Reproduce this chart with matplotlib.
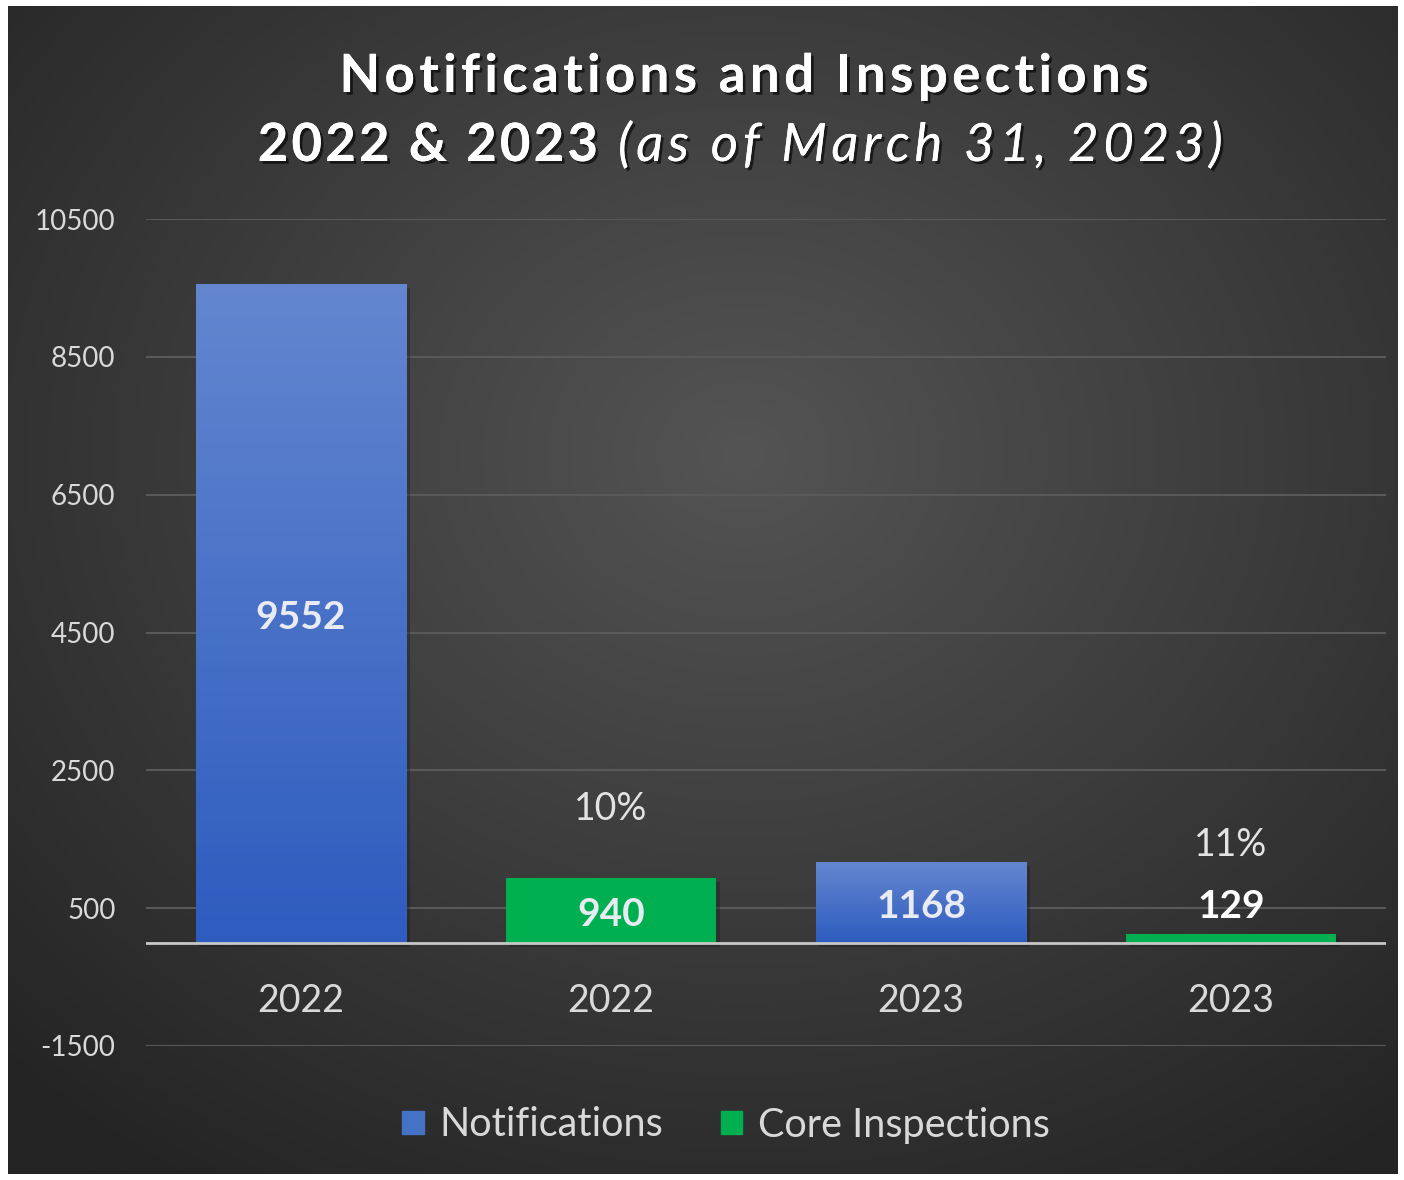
import numpy as np
import matplotlib
matplotlib.use("Agg")
import matplotlib.pyplot as plt
import matplotlib.patheffects as pe
from matplotlib.patches import Patch

# data
categories = ["2022", "2022", "2023", "2023"]
series = ["Notifications", "Core Inspections", "Notifications", "Core Inspections"]
values = [9552, 940, 1168, 129]
pct_labels = ["", "10%", "", "11%"]
yticks = [-1500, 500, 2500, 4500, 6500, 8500, 10500]

plt.rcParams['font.family'] = ['Lato', 'DejaVu Sans']

W, H = 1404, 1180
fig = plt.figure(figsize=(W / 100, H / 100), dpi=100, facecolor="white")
renderer = fig.canvas.get_renderer()


def text_width(t, **kw):
    tt = fig.text(0, 0, t, **kw)
    w = tt.get_window_extent(renderer).width
    tt.remove()
    return w


def spaced_text(x_px, y_px, s, spacing, ha="center", **kw):
    # draws s one glyph at a time so the letters can be spread out
    base = text_width("XX", **kw)
    adv = [text_width("X" + s[:k] + "X", **kw) - base for k in range(len(s) + 1)]
    total = adv[-1] + spacing * (len(s) - 1)
    if ha == "center":
        start = x_px - total / 2
    elif ha == "right":
        start = x_px - total
    else:
        start = x_px
    for k, ch in enumerate(s):
        if ch == " ":
            continue
        fig.text((start + adv[k] + k * spacing) / W, 1 - y_px / H, ch,
                 ha="left", va="baseline", **kw)


# dark radial background inside a thin white frame
bg = fig.add_axes([8 / W, 6 / H, (W - 14) / W, (H - 12) / H])
bg.set_axis_off()
yy, xx = np.mgrid[0:600, 0:700]
cx, cy = 370, 230
r = np.sqrt(((xx - cx) / 700.0) ** 2 + ((yy - cy) / 600.0) ** 2)
r = np.clip(r / 0.75, 0, 1)
light = np.array([0x54, 0x54, 0x54]) / 255.0
dark = np.array([0x24, 0x24, 0x24]) / 255.0
img = light[None, None, :] * (1 - r[..., None]) + dark[None, None, :] * r[..., None]
bg.imshow(img, aspect="auto", extent=(0, 1, 0, 1), origin="upper")
bg.set_xlim(0, 1)
bg.set_ylim(0, 1)

ax = fig.add_axes([146 / W, 1 - 1046 / H, (1386 - 146) / W, (1046 - 219) / H])
ax.patch.set_alpha(0)

colors = {"Notifications": "#4472C4", "Core Inspections": "#00B050"}
width = 0.68
x = np.arange(len(values))

grad = np.linspace(0, 1, 100)[:, None]
top_blue = np.array([0x63, 0x86, 0xCF]) / 255.0
bot_blue = np.array([0x2E, 0x5C, 0xBF]) / 255.0
blue_img = top_blue[None, None, :] * (1 - grad[..., None]) + bot_blue[None, None, :] * grad[..., None]

for i, (v, s) in enumerate(zip(values, series)):
    # soft shadow
    ax.bar(x[i] + 0.012, v, width, bottom=-60, color="#1a1a1a", alpha=0.35, zorder=2)
    bars = ax.bar(x[i], v, width, color=colors[s], zorder=3)
    if s == "Notifications":
        im = ax.imshow(blue_img, aspect="auto", zorder=3.5,
                       extent=(x[i] - width / 2, x[i] + width / 2, 0, v), origin="upper")
        im.set_clip_path(bars[0])

ax.set_xlim(-0.5, 3.5)
ax.set_ylim(-1500, 10500)

# labels on the bars
for i, v in enumerate(values):
    if v > 500:
        ax.annotate(str(v), (x[i], v / 2), xytext=(0, -4), textcoords="offset pixels",
                    ha="center", va="center", fontsize=28, fontweight="bold",
                    color="#e8ebf3", zorder=5)
    else:
        ax.annotate(str(v), (x[i], v), xytext=(0, 27), textcoords="offset pixels",
                    ha="center", va="center", fontsize=28, fontweight="bold",
                    color="white", zorder=5)

pct_offsets = [0, 69, 0, 89]
for i, p in enumerate(pct_labels):
    if p:
        ax.annotate(p, (x[i], values[i]), xytext=(0, pct_offsets[i]), textcoords="offset pixels",
                    ha="center", va="center", fontsize=27, color="#e3e3e3", zorder=5)

ax.set_yticks(yticks)
ax.set_yticklabels([str(t) for t in yticks])
ax.set_xticks(x)
ax.set_xticklabels([])
for i, c in enumerate(categories):
    ax.annotate(c, (x[i], 0), xytext=(0, -58), textcoords="offset pixels",
                ha="center", va="center", fontsize=27, color="#d9d9d9")
ax.tick_params(axis="y", length=0, pad=22, labelsize=20, labelcolor="#d9d9d9")
ax.tick_params(axis="x", length=0)
ax.grid(axis="y", color="#595959", linewidth=1.5, zorder=0)
ax.set_axisbelow(True)
for sp in ax.spines.values():
    sp.set_visible(False)
ax.axhline(0, color="#c8c8c8", linewidth=2, zorder=4)

# title, letter-spaced like the original
shadow = [pe.withSimplePatchShadow(offset=(2, -2), shadow_rgbFace="black", alpha=0.6), pe.Normal()]
spaced_text(744, 92, "Notifications and Inspections", 4.4, ha="center",
            fontsize=38, fontweight="bold", color="white", path_effects=shadow)
spaced_text(598, 161, "2022 & 2023", 3.2, ha="right",
            fontsize=38, fontweight="bold", color="white", path_effects=shadow)
spaced_text(618, 161, "(as of March 31, 2023)", 4.65, ha="left",
            fontsize=38, fontstyle="italic", color="white", path_effects=shadow)

handles = [Patch(color="#4472C4"), Patch(color="#00B050")]
fig.legend(handles, ["Notifications", "Core Inspections"], loc="center",
           bbox_to_anchor=(726 / W, 1 - 1125 / H), ncol=2, frameon=False,
           fontsize=28.5, labelcolor="#d9d9d9", handlelength=0.55, handleheight=0.55,
           handletextpad=0.4, columnspacing=1.45)

fig.savefig("out.png", dpi=100, facecolor="white")
